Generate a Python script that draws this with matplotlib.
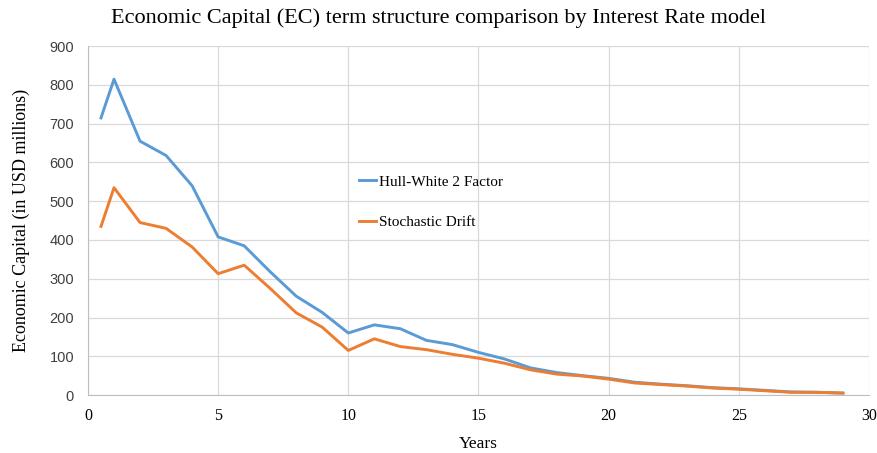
import matplotlib.pyplot as plt

# data <<<
years = [0.5, 1, 2, 3, 4, 5, 6, 7, 8, 9, 10, 11, 12, 13, 14, 15, 16, 17, 18, 19,
         20, 21, 22, 23, 24, 25, 26, 27, 28, 29]
hull_white = [715, 815, 655, 618, 540, 408, 385, 318, 255, 213, 160, 181, 171, 141, 130,
              110, 93, 70, 58, 50, 43, 33, 28, 24, 19, 16, 12, 8, 7, 5]
stoch_drift = [435, 535, 445, 430, 382, 313, 335, 275, 212, 175, 115, 145, 125, 117, 105,
               95, 82, 65, 54, 49, 41, 31, 27, 23, 18, 15, 11, 7, 7, 5]
x_ticks = [0, 5, 10, 15, 20, 25, 30]
y_ticks = [0, 100, 200, 300, 400, 500, 600, 700, 800, 900]
# >>>

serif = ["Liberation Serif", "DejaVu Serif"]
sans = ["Liberation Sans", "DejaVu Sans"]

fig = plt.figure(figsize=(8.78, 4.53), dpi=100)
ax = fig.add_axes([0.1002, 0.128, 0.8895, 0.770])

ax.plot(years, hull_white, color="#5b9bd5", lw=2.1, label="Hull-White 2 Factor")
ax.plot(years, stoch_drift, color="#ed7d31", lw=2.1, label="Stochastic Drift")

ax.set_xlim(0, 30)
ax.set_ylim(0, 900)
ax.set_xticks(x_ticks)
ax.set_yticks(y_ticks)
ax.set_xticklabels([str(t) for t in x_ticks], fontfamily=serif, fontsize=11.5)
ax.set_yticklabels([str(t) for t in y_ticks], fontfamily=sans, fontsize=10.5, color="#404040")
ax.tick_params(axis="x", length=0, pad=9)
ax.tick_params(axis="y", length=0, pad=10)
ax.grid(True, color="#d9d9d9", lw=0.9)
ax.set_axisbelow(True)
for s in ["top", "right"]:
    ax.spines[s].set_visible(False)
for s in ["left", "bottom"]:
    ax.spines[s].set_color("#bfbfbf")

ax.set_xlabel("Years", fontfamily=serif, fontsize=12.5, labelpad=9)
ax.set_ylabel("Economic Capital (in USD millions)", fontfamily=serif, fontsize=13, labelpad=14)
fig.suptitle("Economic Capital (EC) term structure comparison by Interest Rate model",
             fontfamily=serif, fontsize=16, y=0.982)

ax.legend(loc="center left", bbox_to_anchor=(0.33, 0.553), frameon=False,
          handlelength=1.1, handletextpad=0.15, labelspacing=1.75,
          prop={"family": serif, "size": 11})

plt.savefig("out.png", dpi=100)
